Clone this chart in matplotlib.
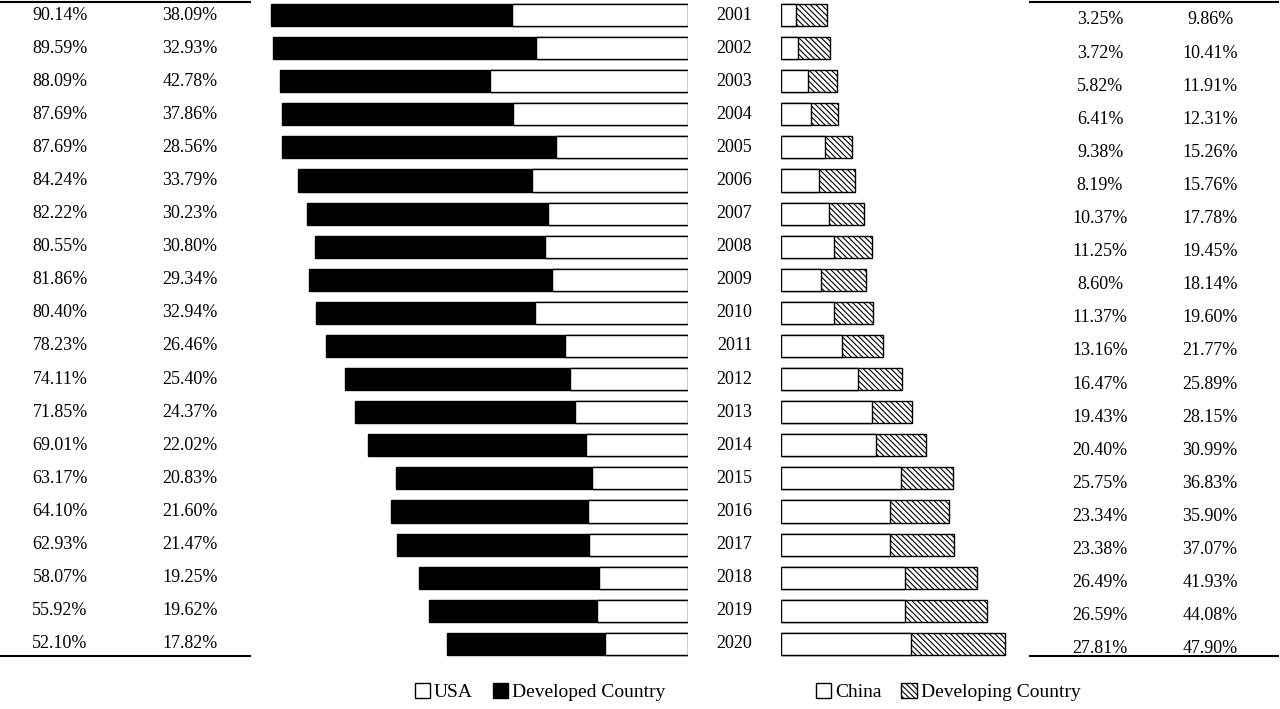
import matplotlib
matplotlib.use("Agg")
import matplotlib.pyplot as plt
from matplotlib.patches import Patch

years = list(range(2001, 2021))
developed = [90.14,89.59,88.09,87.69,87.69,84.24,82.22,80.55,81.86,80.40,78.23,74.11,71.85,69.01,63.17,64.10,62.93,58.07,55.92,52.10]
usa = [38.09,32.93,42.78,37.86,28.56,33.79,30.23,30.80,29.34,32.94,26.46,25.40,24.37,22.02,20.83,21.60,21.47,19.25,19.62,17.82]
china = [3.25,3.72,5.82,6.41,9.38,8.19,10.37,11.25,8.60,11.37,13.16,16.47,19.43,20.40,25.75,23.34,23.38,26.49,26.59,27.81]
developing = [9.86,10.41,11.91,12.31,15.26,15.76,17.78,19.45,18.14,19.60,21.77,25.89,28.15,30.99,36.83,35.90,37.07,41.93,44.08,47.90]

plt.rcParams['font.family'] = ['Liberation Serif', 'DejaVu Serif']
plt.rcParams['hatch.linewidth'] = 0.8
W, H = 1280, 709
fig = plt.figure(figsize=(12.8, 7.09), dpi=100)
top_px, bot_px = 0, 660
def ax_at(x0, x1):
    a = fig.add_axes([x0/W, 1-bot_px/H, (x1-x0)/W, (bot_px-top_px)/H])
    a.set_ylim((bot_px-15)/33.1, -15/33.1)
    a.axis('off')
    return a

n = len(years)
ys = list(range(n))
h = 0.67
fs = 13

# left table
lt = ax_at(0, 250); lt.set_xlim(0, 250)
for i in ys:
    lt.text(60, i, f"{developed[i]:.2f}%", ha='center', va='center', fontsize=fs)
    lt.text(190, i, f"{usa[i]:.2f}%", ha='center', va='center', fontsize=fs)
lt.plot([0, 250], [-0.39, -0.39], color='black', lw=1.5, clip_on=False)
lt.plot([0, 250], [19.38, 19.38], color='black', lw=1.5, clip_on=False)

# left bars
lb = ax_at(250, 688); lb.set_xlim(438/4.63, 0)
lb.barh(ys, developed, height=h, color='black', edgecolor='black', lw=1)
lb.barh(ys, usa, height=h, color='white', edgecolor='black', lw=1)

# years
ym = ax_at(688, 781); ym.set_xlim(0, 1)
for i in ys:
    ym.text(0.5, i, str(years[i]), ha='center', va='center', fontsize=fs)

# right bars
rb = ax_at(781, 1030); rb.set_xlim(0, 249/4.67)
rb.barh(ys, developing, height=h, color='white', edgecolor='black', lw=1, hatch='\\\\\\\\\\\\')
rb.barh(ys, china, height=h, color='white', edgecolor='black', lw=1)

# right table
rt = ax_at(1030, 1278); rt.set_xlim(1030, 1278)
for i in ys:
    rt.text(1100, i + 0.15, f"{china[i]:.2f}%", ha='center', va='center', fontsize=fs)
    rt.text(1210, i + 0.15, f"{developing[i]:.2f}%", ha='center', va='center', fontsize=fs)
rt.plot([1030, 1278], [-0.39, -0.39], color='black', lw=1.5, clip_on=False)
rt.plot([1030, 1278], [19.38, 19.38], color='black', lw=1.5, clip_on=False)

kw = dict(ncol=2, frameon=False, fontsize=14, handlelength=0.8, handleheight=0.8,
          handletextpad=0.2, columnspacing=1.0, loc='center')
fig.legend([Patch(fc='white', ec='black'), Patch(fc='black', ec='black')],
           ['USA', 'Developed Country'], bbox_to_anchor=(540/W, 1-692/H), **kw)
fig.legend([Patch(fc='white', ec='black'), Patch(fc='white', ec='black', hatch='\\\\\\\\\\\\')],
           ['China', 'Developing Country'], bbox_to_anchor=(948/W, 1-692/H), **kw)

fig.savefig('out.png', dpi=100)
